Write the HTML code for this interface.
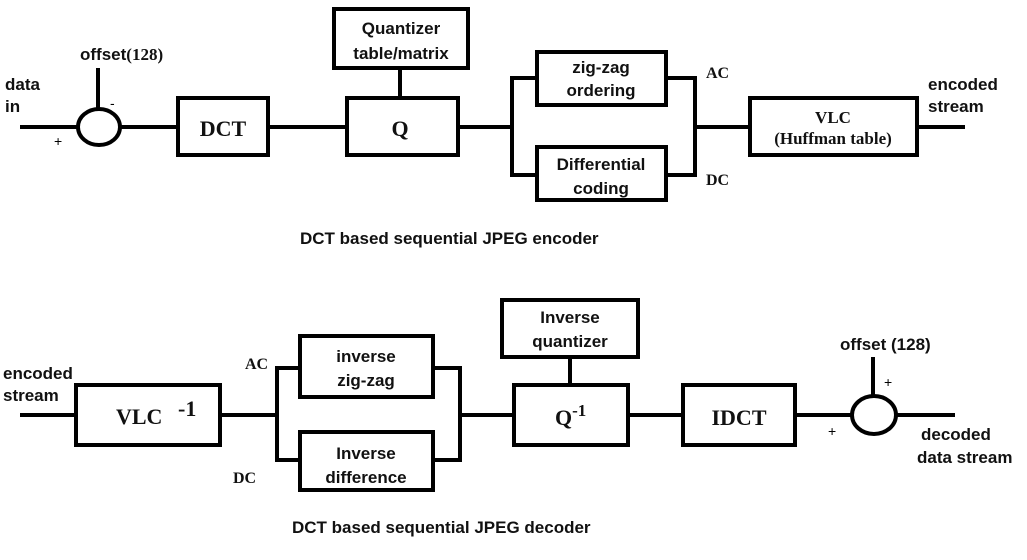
<!DOCTYPE html>
<html><head><meta charset="utf-8"><style>
body{margin:0;background:#fff;}
svg{display:block;}
.s{font-family:"Liberation Sans",sans-serif;font-weight:bold;font-size:17px;fill:#111;}
.r{font-family:"Liberation Serif",serif;font-weight:bold;fill:#111;}
</style></head><body>
<svg width="1027" height="560" viewBox="0 0 1027 560">
<g stroke="#000" stroke-width="4" fill="none">
<line x1="20" y1="127" x2="80" y2="127"/>
<line x1="98" y1="68" x2="98" y2="109"/>
<line x1="120" y1="127" x2="178" y2="127"/>
<line x1="268" y1="127" x2="347" y2="127"/>
<line x1="400" y1="68" x2="400" y2="98"/>
<line x1="458" y1="127" x2="512" y2="127"/>
<polyline points="537,78 512,78 512,175 537,175"/>
<polyline points="666,78 695,78 695,175 666,175"/>
<line x1="695" y1="127" x2="750" y2="127"/>
<line x1="917" y1="127" x2="965" y2="127"/>
</g>
<g stroke="#000" stroke-width="4" fill="#fff">
<ellipse cx="99" cy="127" rx="21" ry="18"/>
<rect x="178" y="98" width="90" height="57"/>
<rect x="347" y="98" width="111" height="57"/>
<rect x="334" y="9" width="134" height="59"/>
<rect x="537" y="52" width="129" height="53"/>
<rect x="537" y="147" width="129" height="53"/>
<rect x="750" y="98" width="167" height="57"/>
</g>
<text class="s" x="5" y="90">data</text>
<text class="s" x="5" y="112">in</text>
<text class="s" x="80" y="60">offset<tspan class="r" font-size="17">(128)</tspan></text>
<text x="110" y="108" font-size="14" font-family="Liberation Sans,sans-serif">-</text>
<text x="54" y="146" font-size="14" font-family="Liberation Sans,sans-serif">+</text>
<text class="r" x="223" y="136" font-size="22" text-anchor="middle">DCT</text>
<text class="r" x="400" y="136" font-size="22" text-anchor="middle">Q</text>
<text class="s" x="401" y="34" text-anchor="middle">Quantizer</text>
<text class="s" x="401" y="59" text-anchor="middle">table/matrix</text>
<text class="s" x="601" y="73" text-anchor="middle">zig-zag</text>
<text class="s" x="601" y="96" text-anchor="middle">ordering</text>
<text class="s" x="601" y="170" text-anchor="middle">Differential</text>
<text class="s" x="601" y="194" text-anchor="middle">coding</text>
<text class="r" x="706" y="78" font-size="16">AC</text>
<text class="r" x="706" y="185" font-size="16">DC</text>
<text class="r" x="833" y="123" font-size="17" text-anchor="middle">VLC</text>
<text class="r" x="833" y="144" font-size="17" text-anchor="middle">(Huffman table)</text>
<text class="s" x="928" y="90">encoded</text>
<text class="s" x="928" y="112">stream</text>
<text class="s" x="300" y="244">DCT based sequential JPEG encoder</text>

<g stroke="#000" stroke-width="4" fill="none">
<line x1="20" y1="415" x2="76" y2="415"/>
<line x1="220" y1="415" x2="277" y2="415"/>
<polyline points="300,368 277,368 277,460 300,460"/>
<polyline points="433,368 460,368 460,460 433,460"/>
<line x1="460" y1="415" x2="514" y2="415"/>
<line x1="570" y1="357" x2="570" y2="385"/>
<line x1="628" y1="415" x2="683" y2="415"/>
<line x1="795" y1="415" x2="853" y2="415"/>
<line x1="873" y1="357" x2="873" y2="397"/>
<line x1="895" y1="415" x2="955" y2="415"/>
</g>
<g stroke="#000" stroke-width="4" fill="#fff">
<rect x="76" y="385" width="144" height="60"/>
<rect x="300" y="336" width="133" height="61"/>
<rect x="300" y="432" width="133" height="58"/>
<rect x="514" y="385" width="114" height="60"/>
<rect x="502" y="300" width="136" height="57"/>
<rect x="683" y="385" width="112" height="60"/>
<ellipse cx="874" cy="415" rx="22" ry="19"/>
</g>
<text class="s" x="3" y="379">encoded</text>
<text class="s" x="3" y="401">stream</text>
<text class="r" x="116" y="424" font-size="22">VLC</text>
<text class="r" x="178" y="416" font-size="22">-1</text>
<text class="r" x="245" y="369" font-size="16">AC</text>
<text class="r" x="233" y="483" font-size="16">DC</text>
<text class="s" x="366" y="362" text-anchor="middle">inverse</text>
<text class="s" x="366" y="386" text-anchor="middle">zig-zag</text>
<text class="s" x="366" y="459" text-anchor="middle">Inverse</text>
<text class="s" x="366" y="483" text-anchor="middle">difference</text>
<text class="s" x="570" y="323" text-anchor="middle">Inverse</text>
<text class="s" x="570" y="347" text-anchor="middle">quantizer</text>
<text class="r" x="555" y="425" font-size="22">Q<tspan font-size="17" dy="-9">-1</tspan></text>
<text class="r" x="739" y="425" font-size="22" text-anchor="middle">IDCT</text>
<text class="s" x="840" y="350">offset (128)</text>
<text x="884" y="387" font-size="14" font-family="Liberation Sans,sans-serif">+</text>
<text x="828" y="436" font-size="14" font-family="Liberation Sans,sans-serif">+</text>
<text class="s" x="921" y="440">decoded</text>
<text class="s" x="917" y="463">data stream</text>
<text class="s" x="292" y="533">DCT based sequential JPEG decoder</text>
</svg>
</body></html>
